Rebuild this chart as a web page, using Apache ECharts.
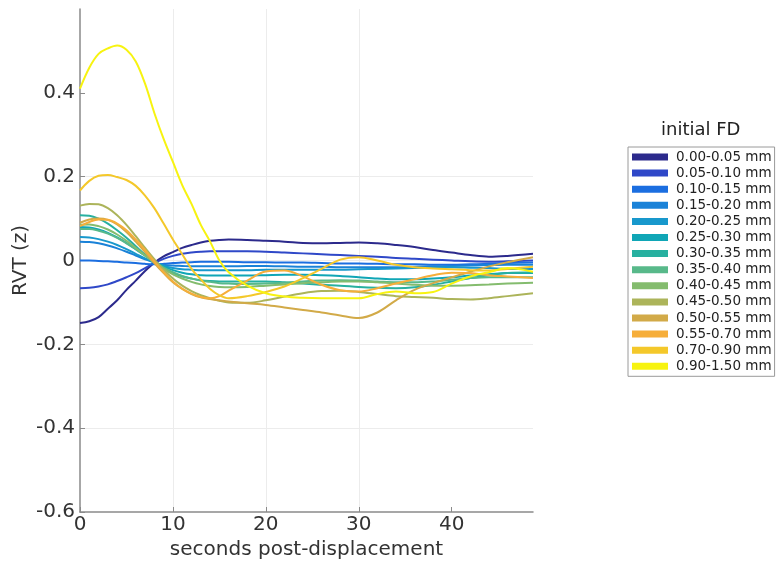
<!DOCTYPE html>
<html>
<head>
<meta charset="utf-8">
<script src="https://cdn.jsdelivr.net/npm/echarts@6/dist/echarts.min.js"></script>
<style>html,body{margin:0;padding:0;background:#fff}#c{width:780px;height:568px}</style>
</head>
<body>
<div id="c"></div>
<script>
var times = [0,1,2,3,4,5,6,7,8,9,10,11,12,13,14,15,16,18,20,22,24,26,28,30,32,34,36,38,40,42,44,46,48.75];
var names = ['0.00-0.05 mm','0.05-0.10 mm','0.10-0.15 mm','0.15-0.20 mm','0.20-0.25 mm','0.25-0.30 mm','0.30-0.35 mm','0.35-0.40 mm','0.40-0.45 mm','0.45-0.50 mm','0.50-0.55 mm','0.55-0.70 mm','0.70-0.90 mm','0.90-1.50 mm'];
var colors = ['#2c2a8c','#2f48c8','#1b6ee0','#1a82d8','#1898cc','#10a6b6','#27b0a0','#58b98a','#84bc6e','#acb45a','#d2aa48','#f6ae3a','#f4c82a','#f7f310'];
var s00 = [-0.149,-0.145,-0.135,-0.115,-0.095,-0.07,-0.048,-0.025,-0.005,0.01,0.02,0.03,0.037,0.043,0.047,0.049,0.05,0.049,0.047,0.045,0.042,0.041,0.042,0.043,0.041,0.037,0.032,0.025,0.019,0.013,0.009,0.011,0.016];
var s05 = [-0.066,-0.065,-0.062,-0.057,-0.049,-0.04,-0.03,-0.018,-0.006,0.004,0.011,0.016,0.019,0.021,0.022,0.022,0.022,0.022,0.021,0.019,0.017,0.015,0.013,0.011,0.009,0.006,0.004,0.002,0.0,-0.002,-0.003,-0.002,0.0];
var s10 = [0.0,0.0,-0.001,-0.002,-0.003,-0.005,-0.006,-0.008,-0.009,-0.008,-0.006,-0.005,-0.004,-0.003,-0.003,-0.003,-0.003,-0.004,-0.004,-0.005,-0.005,-0.006,-0.007,-0.007,-0.008,-0.009,-0.009,-0.01,-0.01,-0.009,-0.008,-0.006,-0.005];
var s15 = [0.045,0.044,0.041,0.036,0.029,0.021,0.012,0.003,-0.005,-0.01,-0.012,-0.013,-0.014,-0.014,-0.014,-0.014,-0.014,-0.013,-0.013,-0.014,-0.015,-0.015,-0.016,-0.016,-0.016,-0.016,-0.015,-0.014,-0.013,-0.012,-0.011,-0.01,-0.01];
var s20 = [0.056,0.055,0.051,0.045,0.037,0.027,0.016,0.005,-0.005,-0.013,-0.018,-0.021,-0.022,-0.023,-0.023,-0.023,-0.023,-0.023,-0.022,-0.022,-0.022,-0.022,-0.022,-0.021,-0.02,-0.019,-0.018,-0.017,-0.016,-0.017,-0.018,-0.02,-0.02];
var s25 = [0.08,0.079,0.074,0.066,0.055,0.042,0.027,0.012,-0.002,-0.014,-0.023,-0.029,-0.033,-0.035,-0.036,-0.036,-0.036,-0.036,-0.035,-0.034,-0.034,-0.035,-0.037,-0.04,-0.043,-0.045,-0.045,-0.043,-0.04,-0.036,-0.033,-0.03,-0.03];
var s30 = [0.108,0.107,0.1,0.088,0.072,0.054,0.034,0.014,-0.004,-0.019,-0.03,-0.038,-0.043,-0.047,-0.049,-0.05,-0.05,-0.05,-0.05,-0.052,-0.055,-0.058,-0.06,-0.063,-0.065,-0.066,-0.064,-0.058,-0.05,-0.042,-0.035,-0.03,-0.028];
var s35 = [0.075,0.075,0.071,0.064,0.054,0.041,0.027,0.012,-0.003,-0.017,-0.028,-0.037,-0.043,-0.048,-0.051,-0.054,-0.055,-0.056,-0.055,-0.053,-0.05,-0.048,-0.047,-0.048,-0.05,-0.052,-0.052,-0.05,-0.046,-0.042,-0.04,-0.04,-0.04];
var s40 = [0.085,0.086,0.082,0.074,0.062,0.047,0.03,0.012,-0.005,-0.02,-0.033,-0.043,-0.051,-0.057,-0.061,-0.063,-0.064,-0.063,-0.06,-0.057,-0.054,-0.052,-0.05,-0.05,-0.052,-0.055,-0.058,-0.06,-0.06,-0.059,-0.057,-0.055,-0.053];
var s45 = [0.131,0.135,0.134,0.125,0.108,0.085,0.058,0.03,0.003,-0.022,-0.043,-0.06,-0.073,-0.083,-0.09,-0.096,-0.1,-0.101,-0.095,-0.086,-0.078,-0.073,-0.072,-0.075,-0.08,-0.085,-0.087,-0.089,-0.092,-0.093,-0.09,-0.085,-0.078];
var s50 = [0.09,0.098,0.1,0.097,0.086,0.068,0.045,0.02,-0.006,-0.03,-0.052,-0.068,-0.08,-0.088,-0.092,-0.095,-0.098,-0.102,-0.106,-0.112,-0.118,-0.124,-0.131,-0.137,-0.124,-0.095,-0.07,-0.054,-0.04,-0.027,-0.014,-0.004,0.008];
var s55 = [0.082,0.092,0.098,0.097,0.088,0.072,0.05,0.025,-0.002,-0.028,-0.05,-0.067,-0.079,-0.087,-0.09,-0.085,-0.072,-0.048,-0.026,-0.024,-0.038,-0.058,-0.071,-0.074,-0.066,-0.055,-0.045,-0.035,-0.029,-0.03,-0.035,-0.038,-0.042];
var s70 = [0.167,0.19,0.202,0.204,0.199,0.192,0.178,0.155,0.125,0.088,0.05,0.015,-0.02,-0.045,-0.068,-0.083,-0.09,-0.085,-0.075,-0.062,-0.042,-0.02,0.002,0.008,0.0,-0.01,-0.016,-0.019,-0.021,-0.023,-0.024,-0.02,-0.015];
var s90 = [0.41,0.46,0.493,0.506,0.513,0.503,0.475,0.422,0.352,0.29,0.235,0.18,0.135,0.085,0.045,0.0,-0.028,-0.06,-0.078,-0.086,-0.089,-0.09,-0.09,-0.09,-0.08,-0.074,-0.078,-0.075,-0.055,-0.038,-0.028,-0.018,-0.027];
var values = [s00,s05,s10,s15,s20,s25,s30,s35,s40,s45,s50,s55,s70,s90];
var xTicks = [0,10,20,30,40];
var yTicks = [-0.6,-0.4,-0.2,0,0.2,0.4];

var FONT = 'DejaVu Sans';
var series = values.map(function (vals, i) {
  return {
    name: names[i],
    type: 'line',
    data: vals.map(function (v, k) { return [times[k], v]; }),
    showSymbol: false,
    symbol: 'none',
    smooth: 0.35,
    lineStyle: { width: 2, color: colors[i] },
    itemStyle: { color: colors[i] },
    z: 2 + i
  };
});

var chart = echarts.init(document.getElementById('c'), null, { renderer: 'canvas' });
chart.setOption({
  animation: false,
  backgroundColor: '#ffffff',
  color: colors,
  grid: { left: 80, right: 247, top: 9, bottom: 56, containLabel: false },
  xAxis: {
    type: 'value', min: 0, max: 48.75, interval: 10,
    name: 'seconds post-displacement', nameLocation: 'middle', nameGap: 21,
    nameTextStyle: { fontFamily: FONT, fontSize: 20, color: '#333' },
    axisLine: { show: true, onZero: false, lineStyle: { color: '#8a8a8a', width: 1.5 } },
    axisTick: { show: true, inside: true, length: 5, customValues: xTicks, lineStyle: { color: '#8a8a8a' } },
    axisLabel: { fontFamily: FONT, fontSize: 20, color: '#333', margin: 3, customValues: xTicks },
    splitLine: { show: true, showMaxLine: false, showMinLine: false, lineStyle: { color: '#ececec', width: 1 } }
  },
  yAxis: {
    type: 'value', min: -0.6, max: 0.6, interval: 0.2,
    name: 'RVT (z)', nameLocation: 'middle', nameGap: 49, nameMoveOverlap: false,
    nameTextStyle: { fontFamily: FONT, fontSize: 20, color: '#333' },
    axisLine: { show: true, onZero: false, lineStyle: { color: '#8a8a8a', width: 1.5 } },
    axisTick: { show: true, inside: true, length: 5, customValues: yTicks, lineStyle: { color: '#8a8a8a' } },
    axisLabel: { fontFamily: FONT, fontSize: 20, color: '#333', margin: 5, customValues: yTicks },
    splitLine: { show: true, showMaxLine: false, showMinLine: false, lineStyle: { color: '#ececec', width: 1 } }
  },
  legend: {
    orient: 'vertical', left: 628, top: 147,
    data: names,
    icon: 'rect', itemWidth: 36, itemHeight: 7, itemGap: 0.1,
    padding: [2, 3, 2, 4],
    borderColor: '#9a9a9a', borderWidth: 1,
    selectedMode: false,
    textStyle: { fontFamily: FONT, fontSize: 13.5, color: '#222', lineHeight: 16, padding: [0, 0, 0, 3] }
  },
  graphic: [{
    type: 'text', left: 661, top: 121,
    style: { text: 'initial FD', fontFamily: FONT, fontSize: 18, fill: '#222' }
  }],
  series: series
});
</script>
</body>
</html>
